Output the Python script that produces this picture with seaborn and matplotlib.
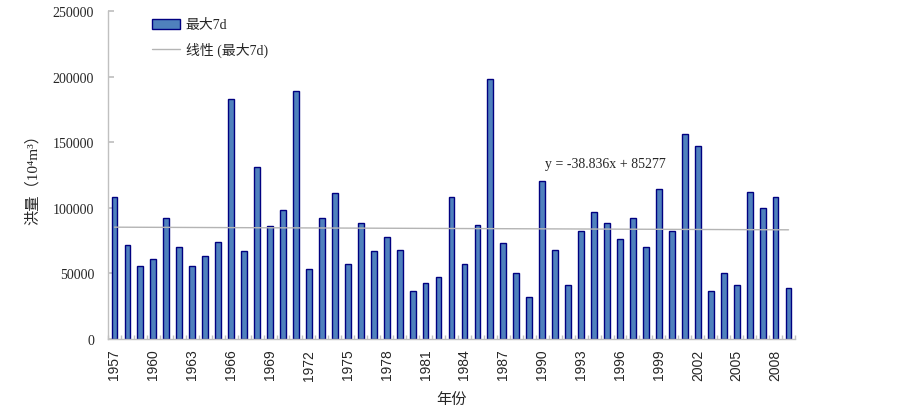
import numpy as np
import pandas as pd
import matplotlib
matplotlib.use("Agg")
import matplotlib.pyplot as plt
import seaborn as sns
from matplotlib.patches import Patch
from matplotlib.lines import Line2D
from matplotlib.ticker import FixedLocator

# data (10^4 m3)
anos = list(range(1957, 2010))
maximo_7d = [108000, 71500, 56000, 61000, 92000, 70000, 56000, 63000, 74000, 183000,
             67000, 131000, 86000, 98000, 189000, 53500, 92000, 111000, 57000, 88500,
             67000, 77500, 68000, 36500, 43000, 47500, 108500, 57000, 87000, 198500,
             73500, 50000, 32000, 120500, 68000, 41500, 82000, 96500, 88500, 76000,
             92000, 70500, 114500, 82000, 156500, 147000, 36500, 50000, 41500, 112000,
             100000, 108500, 39000]
tendencia_a = -38.836
tendencia_b = 85277
rotulo_tend = "y = -38.836x + 85277"

sns.set_theme(style="white")
cjk = ["Liberation Serif", "DejaVu Serif", "Noto Sans CJK SC"]
plt.rcParams["font.family"] = cjk

df = pd.DataFrame({"ano": [str(a) for a in anos], "valor": maximo_7d})

fig = plt.figure(figsize=(9.03, 4.10), dpi=100)
ax = fig.add_axes([108 / 903, 1 - 340 / 410, (795 - 108) / 903, (340 - 12) / 410])

sns.barplot(data=df, x="ano", y="valor", ax=ax, color="#4F81BD", saturation=1,
            width=0.45, edgecolor="#000080", linewidth=1.0)

# linear trend from the printed equation (x = 1..n)
xi = np.arange(len(anos))
ax.plot(xi, tendencia_a * (xi + 1) + tendencia_b, color="#b4b4b4", lw=1.0, zorder=3)

ax.set_xlim(-0.5, len(anos) - 0.5)
ax.set_ylim(0, 250000)
ax.set_yticks(np.arange(0, 250001, 50000))
ax.set_yticklabels([f"{int(v)}" for v in np.arange(0, 250001, 50000)], fontsize=10)

ax.set_xticks(xi[::3])
ax.set_xticklabels([str(a) for a in anos[::3]], rotation=90, fontsize=10,
                   family="Liberation Sans")
ax.xaxis.set_minor_locator(FixedLocator(np.arange(-0.5, len(anos), 1)))
ax.tick_params(axis="x", which="major", length=0, pad=7)
ax.tick_params(axis="x", which="minor", direction="in", length=3, color="#c0c0c0",
               bottom=True)
ax.tick_params(axis="y", direction="in", length=4, color="#c0c0c0", left=True, pad=10)

for s in ["top", "right"]:
    ax.spines[s].set_visible(False)
for s in ["left", "bottom"]:
    ax.spines[s].set_color("#c0c0c0")
    ax.spines[s].set_linewidth(1.0)

ax.set_xlabel("年份", fontsize=11, family=cjk, labelpad=9)
ax.set_ylabel("洪量（10⁴m³）", fontsize=11, family=cjk, labelpad=9)

ax.text(0.724, 0.535, rotulo_tend, transform=ax.transAxes, fontsize=10,
        ha="center", va="center")

handles = [Patch(facecolor="#4F81BD", edgecolor="#000080", linewidth=1.0),
           Line2D([0], [0], color="#b4b4b4", lw=1.0)]
ax.legend(handles, ["最大7d", "线性 (最大7d)"], loc="upper left",
          bbox_to_anchor=(140 / 903, 1 - 7 / 410), bbox_transform=fig.transFigure,
          frameon=False, prop={"family": cjk, "size": 10},
          handlelength=1.95, handleheight=0.7, labelspacing=0.75, handletextpad=0.45)

fig.savefig("out.png", dpi=100)
